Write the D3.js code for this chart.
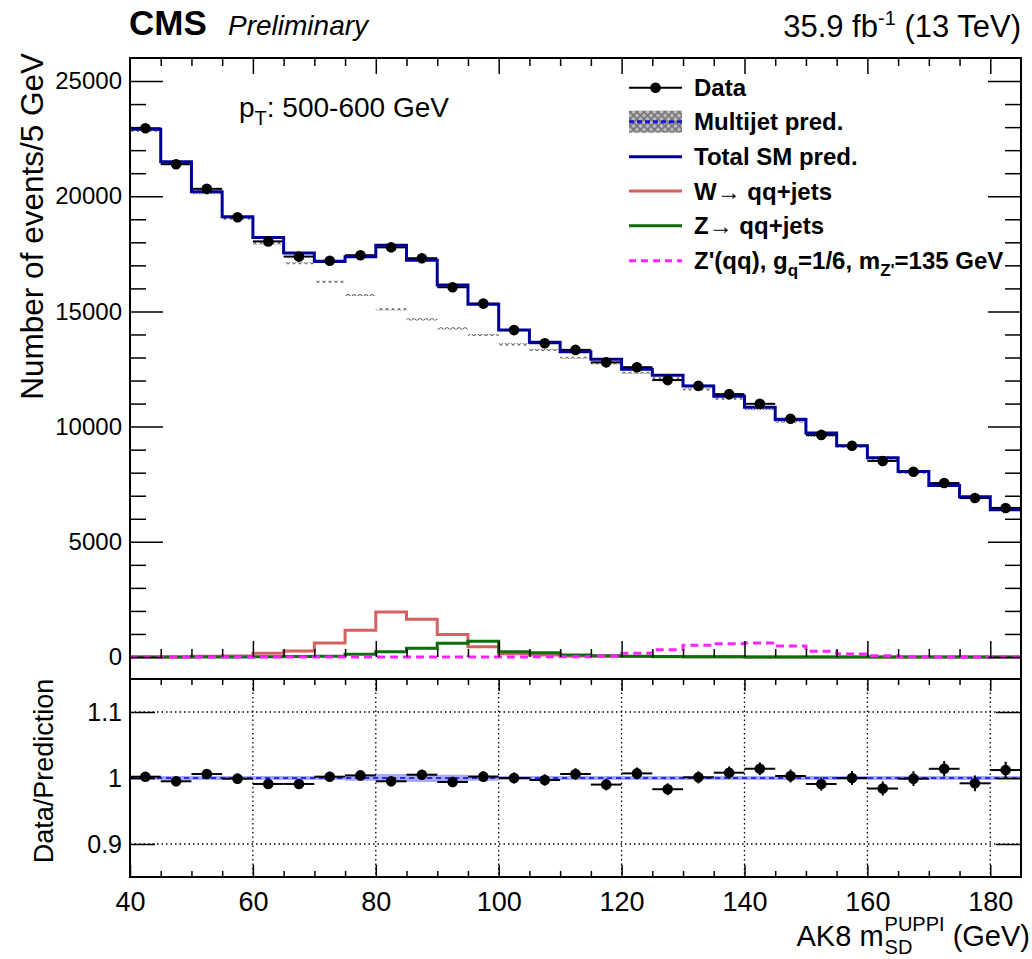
<!DOCTYPE html>
<html>
<head>
<meta charset="utf-8">
<script src="https://cdn.jsdelivr.net/npm/d3@7"></script>
<style>
  html, body { margin: 0; padding: 0; background: #fff; }
  svg { display: block; font-family: "Liberation Sans", Arial, Helvetica, sans-serif; }
</style>
</head>
<body>
<svg id="chart" width="1032" height="959"></svg>
<script>
// ---- binning (5 GeV bins in soft-drop mass) ----
const binLow = [40,45,50,55,60,65,70,75,80,85,90,95,100,105,110,115,120,125,130,135,140,145,150,155,160,165,170,175,180];
const binWidth = 5;

// ---- observed events per bin ----
const dataCounts = [22950,21390,20320,19090,18040,17380,17200,17440,17780,17310,16050,15340,14190,13620,13330,
                    12790,12580,12020,11770,11410,10990,10340,9640,9170,8510,8040,7550,6900,6470];

// ---- total SM prediction per bin ----
const totalSM = [22905,21497,20199,19109,18204,17538,17166,17371,17869,17224,16147,15309,14190,13661,13250,
                 12919,12493,12228,11758,11319,10838,10309,9728,9170,8648,8048,7446,6956,6393];

// ---- multijet prediction per bin ----
const multijet = [22840,21420,20126,19020,17955,17088,16290,15712,15090,14656,14265,13976,13570,13325,12990,
                  12746,12340,12095,11618,11210,10750,10213,9592,9128,8540,8000,7422,6888,6380];

// ---- W -> qq + jets ----
const wJets = [0,5,30,45,160,260,608,1158,1950,1640,975,449,145,87,43,30,18,12,8,6,5,4,3,2,2,1,1,1,1];

// ---- Z -> qq + jets ----
const zJets = [0,0,0,5,10,20,35,115,231,376,593,680,231,188,87,55,30,18,10,6,4,3,2,2,1,1,1,1,1];

// ---- Z'(qq) signal, g_q = 1/6, m = 135 GeV ----
const zPrime = [0,0,0,0,0,0,0,0,0,0,0,2,4,6,15,40,160,318,506,579,608,477,246,130,58,14,5,3,2];

// ---- relative uncertainty of the prediction (ratio band) ----
const predRelUnc = [0.003,0.003,0.003,0.003,0.003,0.003,0.003,0.004,0.006,0.006,0.005,0.004,0.003,0.003,0.003,
                    0.003,0.003,0.003,0.003,0.003,0.003,0.003,0.003,0.003,0.003,0.003,0.003,0.003,0.003];

// ---- axis ticks ----
const yTopMajor = [0,5000,10000,15000,20000,25000];
const xMajor = [40,60,80,100,120,140,160,180];
const ratioMajor = [0.9,1.0,1.1];

// ---- geometry ----
const L = 130, R = 1021;
const topY0 = 58, topY1 = 657;      // y=26000 ... y=0
const ratY0 = 679, ratY1 = 877;

const svg = d3.select("#chart");

const x = d3.scaleLinear().domain([40,185]).range([L,R]);
const yTop = d3.scaleLinear().domain([0,26000]).range([topY1,topY0]);
const yRat = d3.scaleLinear().domain([0.85,1.15]).range([ratY1,ratY0]);

// step outline of a histogram
function stepPoints(vals){
  const pts = [];
  vals.forEach((v,i)=>{ pts.push([binLow[i],v]); pts.push([binLow[i]+binWidth,v]); });
  return pts;
}
const stepLine = (ys) => d3.line().x(d=>x(d[0])).y(d=>ys(d[1]));

// patterns
const defs = svg.append("defs");
const pat = defs.append("pattern").attr("id","xhatch").attr("patternUnits","userSpaceOnUse")
  .attr("width",6).attr("height",6);
pat.append("path").attr("d","M0,0 L6,6 M6,0 L0,6").attr("stroke","#666").attr("stroke-width",1.1);
const pat2 = defs.append("pattern").attr("id","xhatchLeg").attr("patternUnits","userSpaceOnUse")
  .attr("width",7).attr("height",7);
pat2.append("rect").attr("width",7).attr("height",7).attr("fill","#bbb");
pat2.append("path").attr("d","M0,0 L7,7 M7,0 L0,7").attr("stroke","#777").attr("stroke-width",1.6);
defs.append("clipPath").attr("id","clipTop").append("rect").attr("x",L).attr("y",topY0).attr("width",R-L).attr("height",ratY0-topY0);
defs.append("clipPath").attr("id","clipRat").append("rect").attr("x",L).attr("y",ratY0).attr("width",R-L).attr("height",ratY1-ratY0);

// ================= TOP PANEL =================
const gTop = svg.append("g").attr("clip-path","url(#clipTop)");

// multijet band (hatched)
const mjBand = d3.area().x(d=>x(d[0])).y0(d=>yTop(d[1]-45)).y1(d=>yTop(d[1]+45));
gTop.append("path").datum(stepPoints(multijet)).attr("d",mjBand).attr("fill","url(#xhatch)");

// W, Z, Z'
gTop.append("path").datum(stepPoints(wJets)).attr("d",stepLine(yTop))
  .attr("fill","none").attr("stroke","#d66060").attr("stroke-width",3);
gTop.append("path").datum(stepPoints(zJets)).attr("d",stepLine(yTop))
  .attr("fill","none").attr("stroke","#0b6e0b").attr("stroke-width",3);
gTop.append("path").datum(stepPoints(zPrime)).attr("d",stepLine(yTop))
  .attr("fill","none").attr("stroke","#ff22ff").attr("stroke-width",3).attr("stroke-dasharray","8,5");

// data horizontal bars (bin widths) drawn beneath the total line
gTop.append("g").selectAll("line").data(dataCounts).join("line")
  .attr("x1",(d,i)=>x(binLow[i])).attr("x2",(d,i)=>x(binLow[i]+binWidth))
  .attr("y1",d=>yTop(d)).attr("y2",d=>yTop(d)).attr("stroke","#000").attr("stroke-width",2);

// total SM
gTop.append("path").datum(stepPoints(totalSM)).attr("d",stepLine(yTop))
  .attr("fill","none").attr("stroke","#000099").attr("stroke-width",3);

// data points
gTop.append("g").selectAll("line").data(dataCounts).join("line")
  .attr("x1",(d,i)=>x(binLow[i]+binWidth/2)).attr("x2",(d,i)=>x(binLow[i]+binWidth/2))
  .attr("y1",d=>yTop(d-Math.sqrt(d))).attr("y2",d=>yTop(d+Math.sqrt(d))).attr("stroke","#000").attr("stroke-width",2);
gTop.append("g").selectAll("circle").data(dataCounts).join("circle")
  .attr("cx",(d,i)=>x(binLow[i]+binWidth/2)).attr("cy",d=>yTop(d)).attr("r",5.3).attr("fill","#000");

// axes of the top panel
function styleAxis(g){
  g.select(".domain").remove();
  g.selectAll(".tick line").attr("stroke","#000").attr("stroke-width",1.5);
  g.selectAll("text").attr("fill","#000");
}
const yMinorTop = d3.range(1000,26000,1000).filter(v=>v%5000!==0);
const xMinor = d3.range(45,185,5).filter(v=>(v-40)%20!==0);

svg.append("g").attr("transform",`translate(${L},0)`)
  .call(d3.axisLeft(yTop).tickValues(yTopMajor).tickSize(-33).tickPadding(8).tickFormat(d3.format("d")))
  .call(styleAxis).selectAll("text").style("font-size","24px");
svg.append("g").attr("transform",`translate(${L},0)`)
  .call(d3.axisLeft(yTop).tickValues(yMinorTop).tickSize(-16).tickFormat("")).call(styleAxis);
svg.append("g").attr("transform",`translate(${R},0)`)
  .call(d3.axisRight(yTop).tickValues(yTopMajor).tickSize(-33).tickFormat("")).call(styleAxis);
svg.append("g").attr("transform",`translate(${R},0)`)
  .call(d3.axisRight(yTop).tickValues(yMinorTop).tickSize(-16).tickFormat("")).call(styleAxis);
svg.append("g").attr("transform",`translate(0,${topY0})`)
  .call(d3.axisTop(x).tickValues(xMajor.slice(1)).tickSize(-16).tickFormat("")).call(styleAxis);
svg.append("g").attr("transform",`translate(0,${topY0})`)
  .call(d3.axisTop(x).tickValues(xMinor).tickSize(-8).tickFormat("")).call(styleAxis);
svg.append("g").attr("transform",`translate(0,${topY1})`)
  .call(d3.axisBottom(x).tickValues(xMajor.slice(1)).tickSize(-16).tickFormat("")).call(styleAxis);
svg.append("g").attr("transform",`translate(0,${topY1})`)
  .call(d3.axisBottom(x).tickValues(xMinor).tickSize(-8).tickFormat("")).call(styleAxis);

// frame of top panel
svg.append("path").attr("d",`M${L},${ratY0} V${topY0} H${R} V${ratY0}`)
  .attr("fill","none").attr("stroke","#000").attr("stroke-width",2);

// ================= RATIO PANEL =================
const gRat = svg.append("g").attr("clip-path","url(#clipRat)");

// grid
gRat.append("g").selectAll("line").data(xMajor.slice(1)).join("line")
  .attr("x1",d=>x(d)).attr("x2",d=>x(d)).attr("y1",ratY0).attr("y2",ratY1)
  .attr("stroke","#000").attr("stroke-width",1.3).attr("stroke-dasharray","1.5,3");
gRat.append("g").selectAll("line").data(ratioMajor).join("line")
  .attr("x1",L).attr("x2",R).attr("y1",d=>yRat(d)).attr("y2",d=>yRat(d))
  .attr("stroke","#000").attr("stroke-width",1.3).attr("stroke-dasharray","1.5,3");

// prediction uncertainty band
const band = d3.area().x(d=>x(d[0])).y0(d=>yRat(1-d[1])).y1(d=>yRat(1+d[1]));
gRat.append("path").datum(stepPoints(predRelUnc)).attr("d",band).attr("fill","#9a9aff").attr("opacity",0.85);
gRat.append("line").attr("x1",L).attr("x2",R).attr("y1",yRat(1)).attr("y2",yRat(1))
  .attr("stroke","#2a2af0").attr("stroke-width",2).attr("stroke-dasharray","5,4");

// ratio points
const ratio = dataCounts.map((d,i)=>d/totalSM[i]);
const ratioErr = dataCounts.map((d,i)=>Math.sqrt(d)/totalSM[i]);
gRat.append("g").selectAll("line").data(ratio).join("line")
  .attr("x1",(d,i)=>x(binLow[i])).attr("x2",(d,i)=>x(binLow[i]+binWidth))
  .attr("y1",d=>yRat(d)).attr("y2",d=>yRat(d)).attr("stroke","#000").attr("stroke-width",2);
gRat.append("g").selectAll("line").data(ratio).join("line")
  .attr("x1",(d,i)=>x(binLow[i]+binWidth/2)).attr("x2",(d,i)=>x(binLow[i]+binWidth/2))
  .attr("y1",(d,i)=>yRat(d-ratioErr[i])).attr("y2",(d,i)=>yRat(d+ratioErr[i])).attr("stroke","#000").attr("stroke-width",2);
gRat.append("g").selectAll("circle").data(ratio).join("circle")
  .attr("cx",(d,i)=>x(binLow[i]+binWidth/2)).attr("cy",d=>yRat(d)).attr("r",5.3).attr("fill","#000");

// ratio axes
svg.append("g").attr("transform",`translate(${L},0)`)
  .call(d3.axisLeft(yRat).tickValues(ratioMajor).tickSize(-25).tickPadding(8).tickFormat(d=>d===1?"1":d3.format(".1f")(d)))
  .call(styleAxis).selectAll("text").style("font-size","25px");
svg.append("g").attr("transform",`translate(${R},0)`)
  .call(d3.axisRight(yRat).tickValues(ratioMajor).tickSize(-25).tickFormat("")).call(styleAxis);
svg.append("g").attr("transform",`translate(0,${ratY1})`)
  .call(d3.axisBottom(x).tickValues(xMajor).tickSize(-12).tickPadding(8).tickFormat(d3.format("d")))
  .call(styleAxis).selectAll("text").style("font-size","27px").attr("dy","0.95em");
svg.append("g").attr("transform",`translate(0,${ratY1})`)
  .call(d3.axisBottom(x).tickValues(xMinor).tickSize(-6).tickFormat("")).call(styleAxis);
svg.append("g").attr("transform",`translate(0,${ratY0})`)
  .call(d3.axisTop(x).tickValues(xMajor.slice(1)).tickSize(-12).tickFormat("")).call(styleAxis);
svg.append("g").attr("transform",`translate(0,${ratY0})`)
  .call(d3.axisTop(x).tickValues(xMinor).tickSize(-6).tickFormat("")).call(styleAxis);

svg.append("rect").attr("x",L).attr("y",ratY0).attr("width",R-L).attr("height",ratY1-ratY0)
  .attr("fill","none").attr("stroke","#000").attr("stroke-width",2);

// ================= TEXT =================
// axis titles
svg.append("text").attr("transform","translate(43,53) rotate(-90)").attr("text-anchor","end")
  .style("font-size","31.5px").text("Number of events/5 GeV");
svg.append("text").attr("transform","translate(53,771) rotate(-90)").attr("text-anchor","middle")
  .style("font-size","27px").text("Data/Prediction");

// x title with stacked sub/superscript, right aligned
(function(){
  const g = svg.append("g");
  const base = 946, fs = 29, sfs = 20;
  const t1 = g.append("text").attr("y",base).style("font-size",fs+"px").text("AK8 m");
  const sup = g.append("text").attr("y",base-15).style("font-size",sfs+"px").text("PUPPI");
  const sub = g.append("text").attr("y",base+8).style("font-size",sfs+"px").text("SD");
  const t2 = g.append("text").attr("y",base).style("font-size",fs+"px").style("white-space","pre").text(" (GeV)");
  const w1 = t1.node().getComputedTextLength();
  const ws = Math.max(sup.node().getComputedTextLength(), sub.node().getComputedTextLength());
  const w2 = t2.node().getComputedTextLength();
  const x0 = 1029 - (w1+ws+w2);
  t1.attr("x",x0); sup.attr("x",x0+w1+1); sub.attr("x",x0+w1+1); t2.attr("x",x0+w1+ws+1);
})();

// header
svg.append("text").attr("x",129).attr("y",35).style("font-size","35px").style("font-weight","bold").text("CMS");
svg.append("text").attr("x",228).attr("y",35).style("font-size","28px").style("font-style","italic").text("Preliminary");
(function(){
  const t = svg.append("text").attr("x",1021).attr("y",37).attr("text-anchor","end").style("font-size","31px").style("white-space","pre");
  t.append("tspan").text("35.9 fb");
  t.append("tspan").attr("dy",-12).style("font-size","20px").text("-1");
  t.append("tspan").attr("dy",12).text(" (13 TeV)");
})();

// pT bin label
(function(){
  const t = svg.append("text").attr("x",239).attr("y",117).style("font-size","28px");
  t.append("tspan").text("p");
  t.append("tspan").attr("dy",8).style("font-size","20px").text("T");
  t.append("tspan").attr("dy",-8).text(": 500-600 GeV");
})();

// ================= LEGEND =================
const legX0 = 629, legX1 = 682, legTX = 694;
const rows = [87.7,121.7,156.7,191,225.7,260.7];
const lg = svg.append("g").style("font-size","24px").style("font-weight","bold");

// Data
lg.append("line").attr("x1",legX0).attr("x2",legX1).attr("y1",rows[0]).attr("y2",rows[0]).attr("stroke","#000").attr("stroke-width",2);
lg.append("circle").attr("cx",(legX0+legX1)/2).attr("cy",rows[0]).attr("r",5.3).attr("fill","#000");
// Multijet
lg.append("rect").attr("x",legX0).attr("y",rows[1]-11).attr("width",legX1-legX0).attr("height",22).attr("fill","url(#xhatchLeg)");
lg.append("line").attr("x1",legX0).attr("x2",legX1).attr("y1",rows[1]).attr("y2",rows[1]).attr("stroke","#1a1acc").attr("stroke-width",3).attr("stroke-dasharray","5,3");
// Total SM
lg.append("line").attr("x1",legX0).attr("x2",legX1).attr("y1",rows[2]).attr("y2",rows[2]).attr("stroke","#000099").attr("stroke-width",3);
// W
lg.append("line").attr("x1",legX0).attr("x2",legX1).attr("y1",rows[3]).attr("y2",rows[3]).attr("stroke","#d66060").attr("stroke-width",3);
// Z
lg.append("line").attr("x1",legX0).attr("x2",legX1).attr("y1",rows[4]).attr("y2",rows[4]).attr("stroke","#0b6e0b").attr("stroke-width",3);
// Z'
lg.append("line").attr("x1",legX0).attr("x2",legX1).attr("y1",rows[5]).attr("y2",rows[5]).attr("stroke","#ff22ff").attr("stroke-width",3).attr("stroke-dasharray","7,5");

const ty = i => rows[i]+8.5;
lg.append("text").attr("x",legTX).attr("y",ty(0)).text("Data");
lg.append("text").attr("x",legTX).attr("y",ty(1)).text("Multijet pred.");
lg.append("text").attr("x",legTX).attr("y",ty(2)).text("Total SM pred.");
(function(){
  const t = lg.append("text").attr("x",legTX).attr("y",ty(3));
  t.append("tspan").text("W");
  t.append("tspan").style("font-weight","normal").text("\u2192");
  t.append("tspan").text(" qq+jets");
  const t2 = lg.append("text").attr("x",legTX).attr("y",ty(4));
  t2.append("tspan").text("Z");
  t2.append("tspan").style("font-weight","normal").text("\u2192");
  t2.append("tspan").text(" qq+jets");
  const t3 = lg.append("text").attr("x",legTX).attr("y",ty(5));
  t3.append("tspan").text("Z'(qq), g");
  t3.append("tspan").attr("dy",7).style("font-size","17px").text("q");
  t3.append("tspan").attr("dy",-7).text("=1/6, m");
  t3.append("tspan").attr("dy",7).style("font-size","17px").text("Z'");
  t3.append("tspan").attr("dy",-7).text("=135 GeV");
})();
</script>
</body>
</html>
